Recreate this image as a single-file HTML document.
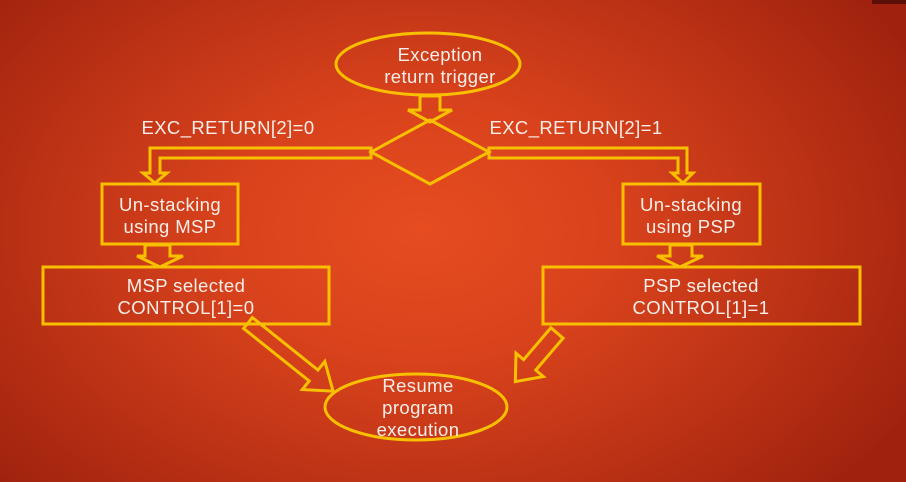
<!DOCTYPE html>
<html><head><meta charset="utf-8"><style>
html,body{margin:0;padding:0}
body{width:906px;height:482px;overflow:hidden;position:relative;
background:radial-gradient(ellipse 560px 380px at 420px 230px,#e64c20 0%,#d8421c 35%,#bf3416 65%,#a0220e 100%);}
svg{position:absolute;left:0;top:0}
text{font-family:"Liberation Sans",sans-serif;fill:#f6eee8;font-size:18.5px;text-anchor:middle;letter-spacing:0.4px}
</style></head><body>
<svg width="906" height="482" viewBox="0 0 906 482">
<rect x="872" y="0" width="34" height="4" fill="#5a1008"/>
<g fill="none" stroke="#f8c000" stroke-width="3">
<ellipse cx="428" cy="64" rx="92" ry="31"/>
<polygon points="430,120 489,152 430,184 371,152"/>
<polygon points="420,96 440,96 440,110 452,110 430,122 408,110 420,110"/>
<polygon points="371,148 150,148 150,173 143,173 155,183 167,173 160,173 160,158 371,158"/>
<polygon points="489,148 687,148 687,173 693,173 683,183 672,173 678,173 678,158 489,158"/>
<rect x="102" y="184" width="136" height="60"/>
<rect x="623" y="184" width="137" height="60"/>
<polygon points="145,245 170,245 170,256 183,256 160,267 137,256 145,256"/>
<polygon points="670,245 692,245 692,256 703,256 680,267 657,256 670,256"/>
<rect x="43" y="267" width="286" height="57"/>
<rect x="543" y="267" width="317" height="57"/>
<polygon transform="translate(248,323) rotate(38.7)" points="0,-7 84,-7 84,-18 109,0 84,18 84,7 0,7"/>
<polygon transform="translate(557,333) rotate(130.6)" points="0,-8 42,-8 42,-18 64,0 42,18 42,8 0,8"/>
<ellipse cx="416" cy="407" rx="91" ry="33"/>
</g>
<text x="440" y="61">Exception</text>
<text x="440" y="83">return trigger</text>
<text x="228" y="134">EXC_RETURN[2]=0</text>
<text x="576" y="134">EXC_RETURN[2]=1</text>
<text x="170" y="211">Un-stacking</text>
<text x="170" y="233">using MSP</text>
<text x="691" y="211">Un-stacking</text>
<text x="691" y="233">using PSP</text>
<text x="186" y="292">MSP selected</text>
<text x="186" y="314">CONTROL[1]=0</text>
<text x="701" y="292">PSP selected</text>
<text x="701" y="314">CONTROL[1]=1</text>
<text x="418" y="392">Resume</text>
<text x="418" y="414">program</text>
<text x="418" y="436">execution</text>
</svg>
</body></html>
